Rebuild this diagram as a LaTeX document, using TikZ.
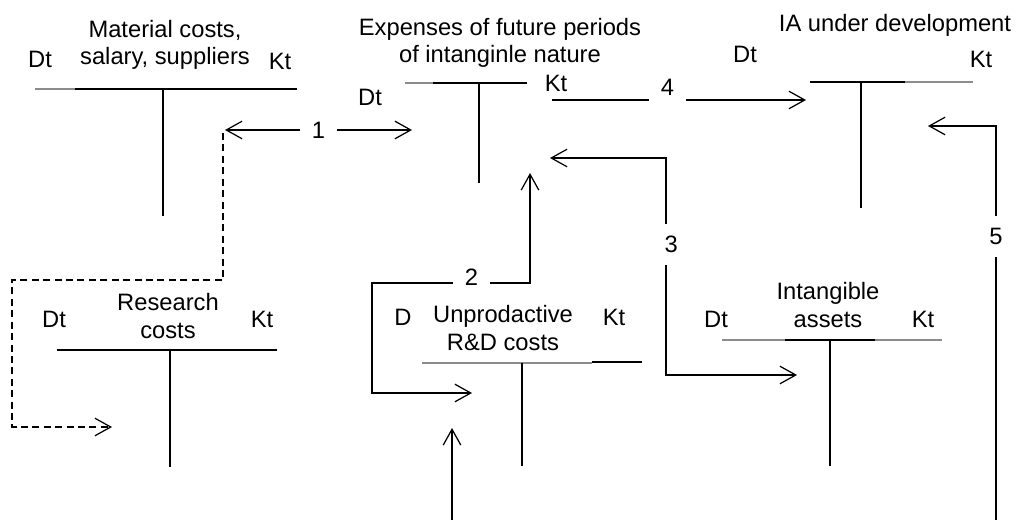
\documentclass[tikz,border=0pt]{standalone}
\usepackage{fontspec}
\setmainfont{Liberation Sans}
\usetikzlibrary{arrows.meta}
\begin{document}
\begin{tikzpicture}[x=0.02cm,y=-0.02cm,line width=0.7pt,
    txt/.style={inner sep=0pt,anchor=base,font=\fontsize{13.5}{15.5}\selectfont},
    ttl/.style={txt,align=center},
    pale/.style={black!45},
    flow/.style={-{Straight Barb[length=9pt,width=10pt]}},
    twoway/.style={{Straight Barb[length=9pt,width=10pt]}-{Straight Barb[length=9pt,width=10pt]}},
    num/.style={txt,anchor=center,fill=white,inner xsep=7pt,inner ysep=2pt},
    vnum/.style={txt,anchor=center,fill=white,inner xsep=2pt,inner ysep=7pt}]
\useasboundingbox (0,0) rectangle (1020,520);
% material costs, salary, suppliers
\node[ttl] (matT) at (165,65) {Material costs,\\salary, suppliers};
\node[txt] (matD) at (40,68) {Dt};
\node[txt] (matK) at (280,70) {Kt};
\draw[pale] (35,89) -- (75,89);
\draw (75,89) -- (297,89) (163,89) -- (163,216);
% expenses of future periods
\node[ttl] (expT) at (500,63) {Expenses of future periods\\of intanginle nature};
\node[txt] (expD) at (370,106) {Dt};
\node[txt] (expK) at (556,92) {Kt};
\draw[pale] (405,83) -- (433,83);
\draw (433,83) -- (527,83) (479,83) -- (479,183);
% IA under development
\node[ttl] (iadT) at (895,32) {IA under development};
\node[txt] (iadD) at (745,63) {Dt};
\node[txt] (iadK) at (981,68) {Kt};
\draw (810,82) -- (905,82) (861,82) -- (861,208);
\draw[pale] (905,82) -- (973,82);
% research costs
\node[ttl] (resT) at (168,338) {Research\\costs};
\node[txt] (resD) at (54,327) {Dt};
\node[txt] (resK) at (262,327) {Kt};
\draw (57,350) -- (277,350) (170,350) -- (170,467);
% unprodactive R&D costs
\node[ttl] (unpT) at (503,350) {Unprodactive\\R\&D costs};
\node[txt] (unpD) at (403,325) {D};
\node[txt] (unpK) at (614,325) {Kt};
\draw[pale] (422,363) -- (592,363);
\draw (592,362) -- (642,362) (522,363) -- (522,466);
% intangible assets
\node[ttl] (intT) at (828,327) {Intangible\\assets};
\node[txt] (intD) at (716,327) {Dt};
\node[txt] (intK) at (923,327) {Kt};
\draw[pale] (722,340) -- (785,340) (875,340) -- (942,340);
\draw (785,340) -- (875,340) (830,340) -- (830,466);
% connector ends
\coordinate (c1a) at (225,130); \coordinate (c1b) at (412,130);
\coordinate (d0) at (223,133); \coordinate (d1) at (12,280); \coordinate (d2) at (112,427);
\coordinate (c2a) at (472,393); \coordinate (c2m) at (372,283); \coordinate (c2n) at (530,283); \coordinate (c2b) at (530,173);
\coordinate (c3a) at (550,158); \coordinate (c3m) at (666,158); \coordinate (c3n) at (666,375); \coordinate (c3b) at (797,375);
\coordinate (c4a) at (552,100); \coordinate (c4b) at (806,100);
\coordinate (c5a) at (996,520); \coordinate (c5b) at (928,126);
\coordinate (c6a) at (452,520); \coordinate (c6b) at (452,428);
% postings
\draw[twoway] (c1a) -- node[num] (n1) {1} (c1b);
\draw[flow,dash pattern=on 4pt off 2.5pt] (d0) |- (d1) |- (d2);
\draw[twoway] (c2a) -| (c2m) -- node[num,pos=0.63,yshift=3.5pt,inner ysep=4pt] (n2) {2} (c2n) -- (c2b);
\draw[twoway] (c3a) -- (c3m) -- node[vnum,pos=0.4,xshift=3pt] (n3) {3} (c3n) -- (c3b);
\draw[flow] (c4a) -- node[num,pos=0.455,yshift=7pt,inner ysep=6pt] (n4) {4} (c4b);
\draw[flow] (c5a) |- node[vnum,pos=0.36] (n5) {5} (c5b);
\draw[flow] (c6a) -- (c6b);
\end{tikzpicture}
\end{document}
